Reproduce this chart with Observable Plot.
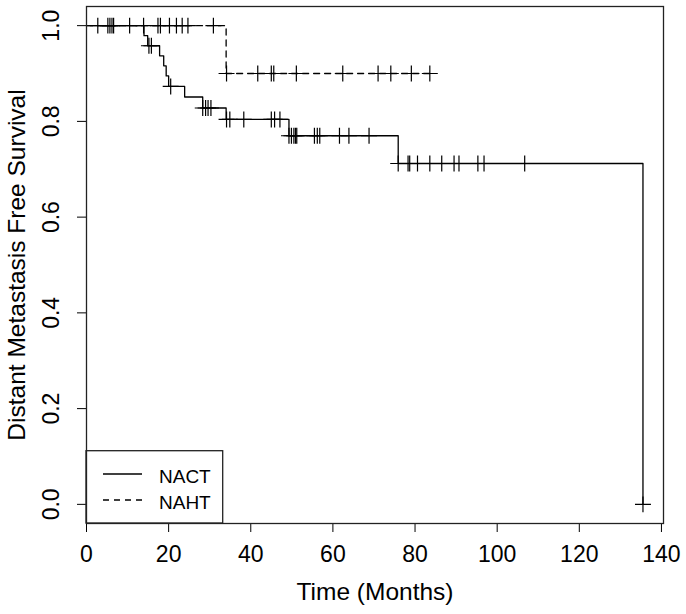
<!DOCTYPE html>
<html><head><meta charset="utf-8">
<script src="https://cdn.jsdelivr.net/npm/d3@7"></script>
<script src="https://cdn.jsdelivr.net/npm/@observablehq/plot@0.6"></script>
<style>html,body{margin:0;padding:0;background:#fff}</style>
</head><body><div id="chart"></div>
<script>
// ---- data ----
const xTicks = [0, 20, 40, 60, 80, 100, 120, 140];
const yTicks = [0, 0.2, 0.4, 0.6, 0.8, 1.0];
const xTitle = "Time (Months)";
const yTitle = "Distant Metastasis Free Survival";
const groups = ["NACT", "NAHT"];

// NACT Kaplan-Meier steps (time in months, survival after that time)
const nactTime = [0, 14.0, 14.9, 17.8, 18.8, 19.4, 20.0, 23.9, 28.3, 34.0, 49.3, 75.9, 135.5];
const nactSurv = [1, 0.979, 0.958, 0.937, 0.916, 0.895, 0.873, 0.851, 0.828, 0.804, 0.770, 0.712, 0];
const nactCensor = [5.7, 6.6, 15.2, 15.8, 20.5, 28.3, 29.0, 29.6, 30.3,
  34.1, 34.9, 38.3, 45.0, 45.8, 47.1,
  49.3, 49.9, 50.5, 50.9, 51.2, 55.5, 56.2, 56.8, 61.6, 63.9, 68.8,
  75.9, 78.3, 78.7, 80.6, 83.6, 86.5, 89.5, 90.7, 95.3, 96.8, 106.7, 135.5];

// NAHT steps
const nahtTime = [0, 34.0, 83.6];
const nahtSurv = [1, 0.90, 0.90];
const nahtCensor = [2.75, 5.2, 6.2, 10.5, 13.9, 17.4, 18.0, 20.2, 21.9, 23.3, 24.7, 30.9,
  34.1, 41.7, 45.0, 45.6, 51.1, 62.4, 71.0, 74.1, 79.1, 83.6];

// ---- tables built from the arrays ----
const steps = (T, S) => T.map((t, i) => ({t, s: S[i]}));
const survAt = (T, S, t) => { let v = S[0]; for (let i = 0; i < T.length; i++) if (T[i] <= t) v = S[i]; return v; };
const censors = (C, T, S) => C.map(t => ({t, s: survAt(T, S, t)}));
const nact = steps(nactTime, nactSurv);
const naht = steps(nahtTime, nahtSurv);
const nactC = censors(nactCensor, nactTime, nactSurv);
const nahtC = censors(nahtCensor, nahtTime, nahtSurv);

const W = 686, H = 614, mL = 86, mR = 23, mT = 6, mB = 91;
const font = "'Liberation Sans', Arial, sans-serif";

const plot = Plot.plot({
  width: W, height: H,
  marginLeft: mL, marginRight: mR, marginTop: mT, marginBottom: mB,
  style: {fontFamily: font, fontSize: "23px", background: "#fff", color: "#000"},
  x: {domain: [0, 140.5], label: null},
  y: {domain: [-0.04, 1.04], label: null},
  marks: [
    Plot.axisX({ticks: xTicks, tickSize: 9, tickPadding: 13, fontSize: 23, label: null}),
    Plot.axisY({ticks: yTicks, tickSize: 9, tickFormat: () => "", label: null}),
    Plot.text(yTicks, {y: d => d, text: d => d.toFixed(1), frameAnchor: "left", dx: -35, rotate: -90,
      textAnchor: "middle", lineAnchor: "middle", fontSize: 23}),
    Plot.text([xTitle], {frameAnchor: "bottom", dy: 76, textAnchor: "middle", lineAnchor: "bottom", fontSize: 24.5}),
    Plot.text([yTitle], {frameAnchor: "left", dx: -69, rotate: -90, textAnchor: "middle", lineAnchor: "middle", fontSize: 24.5}),
    Plot.line(naht, {x: "t", y: "s", curve: "step-after", stroke: "#000", strokeWidth: 1.3, strokeDasharray: "6,5"}),
    Plot.line(nact, {x: "t", y: "s", curve: "step-after", stroke: "#000", strokeWidth: 1.3}),
    Plot.dot(nahtC, {x: "t", y: "s", symbol: "plus", r: 5.2, stroke: "#000", strokeWidth: 1.2}),
    Plot.dot(nactC, {x: "t", y: "s", symbol: "plus", r: 5.2, stroke: "#000", strokeWidth: 1.2}),
    Plot.frame({stroke: "#222", strokeWidth: 1.3})
  ]
});

// legend (bottom-left of the plotting region, like R's legend("bottomleft"))
const svg = d3.select(plot);
const fx = mL, fy = H - mB;
const lg = svg.append("g").attr("font-family", font).attr("font-size", 19).attr("text-anchor", "start");
lg.append("rect").attr("x", fx).attr("y", fy - 72.3).attr("width", 136.7).attr("height", 72.3)
  .attr("fill", "none").attr("stroke", "#222").attr("stroke-width", 1.3);
groups.forEach((g, i) => {
  const yy = fy - 49 + i * 26;
  lg.append("line").attr("x1", fx + 17).attr("x2", fx + 56).attr("y1", yy).attr("y2", yy)
    .attr("stroke", "#000").attr("stroke-width", 1.3).attr("stroke-dasharray", i ? "6,5" : null);
  lg.append("text").attr("x", fx + 73).attr("y", yy + 9.3).attr("text-anchor", "start").text(g);
});

document.getElementById("chart").appendChild(plot);
</script>
</body></html>
